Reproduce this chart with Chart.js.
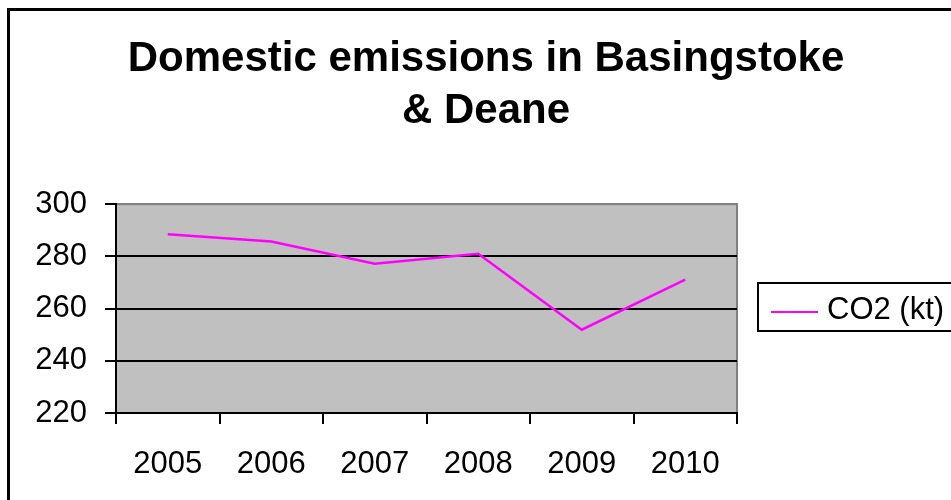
<!DOCTYPE html>
<html>
<head>
<meta charset="utf-8">
<script src="https://cdn.jsdelivr.net/npm/chart.js@4"></script>
<style>
  html, body { margin: 0; padding: 0; background: #fff; }
  #wrap { width: 951px; height: 500px; position: relative; }
</style>
</head>
<body>
<div id="wrap"><canvas id="myChart" width="951" height="500"></canvas></div>
<script>
// Dữ liệu
var years = ["2005", "2006", "2007", "2008", "2009", "2010"];
var co2 = [288.5, 285.7, 277.2, 281.0, 251.9, 271.1];
var yTicks = [220, 240, 260, 280, 300];

var FONT = "'Liberation Sans', Arial, sans-serif";

// nền xám, khung ngoài, chú thích
var decor = {
    id: 'decor',
    beforeDraw: function (chart) {
        var c = chart.ctx, a = chart.chartArea;
        c.save();
        c.fillStyle = '#fff';
        c.fillRect(0, 0, chart.width, chart.height);
        c.fillStyle = '#C0C0C0';
        c.fillRect(a.left, a.top, a.right - a.left, a.bottom - a.top);
        c.strokeStyle = '#808080';
        c.lineWidth = 2;
        c.strokeRect(a.left, a.top, a.right - a.left, a.bottom - a.top);
        // khung ngoài
        c.strokeStyle = '#000';
        c.lineWidth = 3;
        c.strokeRect(8.5, 9.5, 1000, 600);
        c.restore();
    },
    afterDraw: function (chart) {
        var c = chart.ctx, ds = chart.data.datasets[0];
        c.save();
        c.strokeStyle = '#000';
        c.lineWidth = 2;
        c.strokeRect(758, 283, 200, 48);
        c.strokeStyle = ds.borderColor;
        c.lineWidth = 2;
        c.beginPath();
        c.moveTo(771, 312);
        c.lineTo(818, 312);
        c.stroke();
        c.fillStyle = '#000';
        c.font = "31px " + FONT;
        c.textBaseline = 'middle';
        c.fillText(ds.label, 827, 310);
        c.restore();
    }
};

var ctx = document.getElementById('myChart').getContext('2d');
var myChart = new Chart(ctx, {
    type: 'line',
    data: {
        labels: years,
        datasets: [{
            label: "CO2 (kt)",
            data: co2,
            borderColor: "#FF00FF",
            backgroundColor: "#FF00FF",
            borderWidth: 2.5,
            pointRadius: 0,
            tension: 0
        }]
    },
    options: {
        responsive: false,
        animation: false,
        layout: { padding: { left: 21, right: 0, top: 0, bottom: 0 } },
        plugins: {
            title: {
                display: true,
                text: ["Domestic emissions in Basingstoke", "& Deane"],
                color: '#000',
                font: { family: FONT, size: 42, weight: 'bold', lineHeight: 1.24 },
                padding: { top: 33, bottom: 67 }
            },
            legend: { display: false },
            tooltip: { enabled: false }
        },
        scales: {
            x: {
                offset: true,
                afterFit: function (s) { s.height = 87; },
                grid: {
                    offset: true,
                    drawOnChartArea: false,
                    drawTicks: true,
                    tickLength: 11,
                    color: '#000',
                    lineWidth: 2
                },
                border: { display: true, color: '#000', width: 2 },
                ticks: {
                    color: '#000',
                    font: { family: FONT, size: 31 },
                    padding: 22,
                    maxRotation: 0
                }
            },
            y: {
                min: yTicks[0],
                max: yTicks[yTicks.length - 1],
                afterBuildTicks: function (s) {
                    s.ticks = yTicks.map(function (v) { return { value: v }; });
                },
                afterFit: function (s) { s.width = 95; },
                grid: {
                    color: function (c) { return c.tick && c.tick.value === 300 ? '#808080' : '#000'; },
                    lineWidth: 2,
                    tickLength: 11,
                    tickColor: '#000'
                },
                border: { display: true, color: '#000', width: 2 },
                ticks: {
                    color: '#000',
                    font: { family: FONT, size: 31 },
                    padding: 18
                }
            },
            // trục trống bên phải, chừa chỗ cho chú thích
            yRight: {
                position: 'right',
                display: true,
                afterFit: function (s) { s.width = 214; },
                grid: { display: false },
                border: { display: false },
                ticks: { display: false }
            }
        }
    },
    plugins: [decor]
});
</script>
</body>
</html>
